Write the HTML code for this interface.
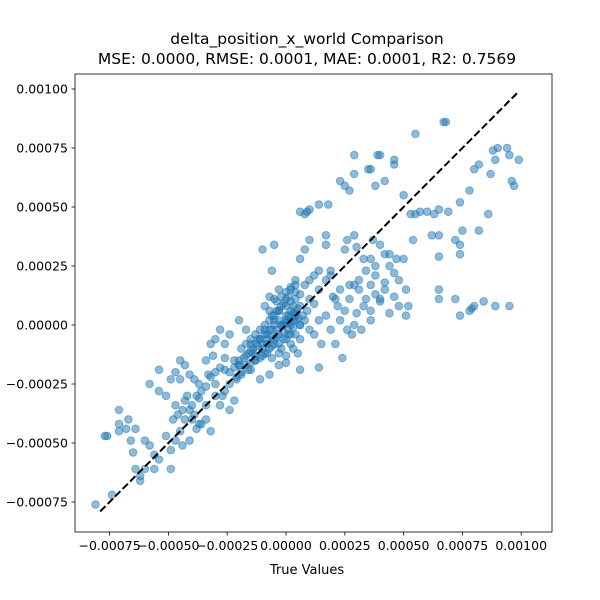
<!DOCTYPE html>
<html><head><meta charset="utf-8"><style>
html,body{margin:0;padding:0;background:#fff}
svg{display:block;font-family:"DejaVu Sans","Liberation Sans",sans-serif}
</style></head><body>
<svg id="chart" width="600" height="600" viewBox="0 0 600 600">
<rect width="600" height="600" fill="#fff"/>
<text x="307" y="44" font-size="15.5" text-anchor="middle">delta_position_x_world Comparison</text>
<text x="307" y="64" font-size="15.5" text-anchor="middle">MSE: 0.0000, RMSE: 0.0001, MAE: 0.0001, R2: 0.7569</text>
<g id="points"></g>
<g id="axes"></g>
<text x="307" y="574" font-size="13" text-anchor="middle">True Values</text>
</svg>
<script>
// values in units of 1e-5
const xTicks = [-75,-50,-25,0,25,50,75,100];
const xTickLabels = ["\u22120.00075","\u22120.00050","\u22120.00025","0.00000","0.00025","0.00050","0.00075","0.00100"];
const yTicks = [-75,-50,-25,0,25,50,75,100];
const yTickLabels = ["\u22120.00075","\u22120.00050","\u22120.00025","0.00000","0.00025","0.00050","0.00075","0.00100"];
const lineRange = [-79, 99];
const trueVals = [-81,-74,-76,-77,-71,-71,-71,-68,-67,-66,-64,-65,-64,-62,-60,-62,-56,-58,-54,-51,-54,-49,-47,-45,-47,-43,-43,-41,-39,-37,-34,-32,-30,-28,-26,-24,-22,-31,-34,-26,-24,-20,-17,-15,-13,-11,-9,-7,-5,-3,-6,-5,-10,4,6,8,10,6,4,2,0,-3,-7,-11,-15,-20,-22,6,14,19,23,21,25,27,29,31,34,36,37,40,42,44,46,48,51,52,51,40,42,38,36,32,29,26,19,17,17,25,26,29,8,10,14,18,23,25,27,29,35,39,38,42,46,50,53,55,57,60,63,65,69,74,65,72,74,75,78,80,82,87,89,88,90,94,95,96,97,99,86,82,74,65,65,72,74,79,84,80,50,54,67,68,55,46,40,36,29,6,9,65,62,78,89,95,
-20,-17,-15,-13,-11,-9,-7,-5,-3,0,2,4,6,8,10,12,14,0,2,4,-3,-2,1,3,4,6,10,14,17,19,-5,-8,-10,-13,-16,-19,-21,-24,-27,-30,-37,-39,-41,-43,-45,-33,-26,-32,-30,-28,6,10,14,17,21,23,27,31,34,36,38,
-54,-49,-47,-45,-41,-37,-34,-51,-56,-58,-60,-49,-44,
-1,1,3,5,-4,-6,7,9,12,0,-2,2,
-4,-2,0,2,-6,-4,-2,0,2,4,-8,-6,-3,-1,1,3,-5,0,2,4,-10,-8,-6,-12,-14,3,5,0,-3,6,8,-7,-9,
-24,-22,-20,-18,-16,-14,-12,-10,-8,-6,-4,-2,0,2,4,-19,-17,-15,-13,-11,-9,-7,-5,-3,-1,1,-21,-19,-17,-15,-13,-11,-9,-7,-5,-3,-1,1,3,5,-26,-28,-30,-32,-34,-36,-38,-40,-42,-44,-46,-48,-36,-38,-40,
30,33,36,40,44,46,48,42,38,44,47,33,30,20,22,12,15,24,28];
const predVals = [-76,-72,-47,-47,-36,-42,-45,-44,-40,-49,-44,-54,-61,-64,-61,-66,-55,-25,-28,-30,-19,-23,-20,-23,-34,-32,-40,-36,-38,-31,-34,-45,-30,-34,-28,-36,-32,-13,-15,-8,-4,2,-2,-8,-13,-6,-2,6,11,15,23,34,32,19,28,32,36,0,-4,-8,-13,-17,-21,-23,-19,-17,-15,-19,-18,-2,2,-8,6,11,17,19,23,28,36,34,30,25,22,19,15,8,4,11,15,13,2,-2,0,-2,23,38,34,32,36,38,47,49,51,51,61,59,57,64,66,72,59,61,68,55,47,47,48,48,47,49,48,52,38,36,34,40,57,66,68,64,70,74,75,75,72,61,59,70,47,40,30,11,15,11,4,7,10,8,28,36,86,86,81,70,72,66,72,48,48,29,38,6,8,8,
-15,-13,-11,-8,-6,-4,-2,0,2,4,6,11,13,17,19,21,23,11,15,17,6,0,-2,2,4,8,11,15,19,21,-6,-8,-13,-15,-19,-21,-23,-25,-30,-25,-25,-23,-21,-17,-15,-21,-19,-8,-6,-2,-6,-2,2,4,11,15,17,15,11,17,21,
-57,-53,-49,-45,-49,-42,-40,-47,-61,-51,-49,-61,-51,
-3,1,5,7,-5,-9,4,6,9,-6,-10,-4,
10,12,14,16,4,6,8,8,10,14,-4,-2,-4,0,4,8,2,2,0,2,-10,-12,-14,-6,-10,-10,-12,-16,-12,0,2,12,8,
-20,-18,-17,-14,-12,-12,-9,-8,-6,-5,-2,0,1,3,5,-10,-8,-6,-4,-2,0,2,4,6,9,12,-22,-20,-17,-16,-15,-14,-12,-10,-8,-8,-6,-4,-1,3,-14,-18,-20,-22,-26,-28,-30,-34,-30,-36,-38,-40,-42,-44,-40,
5,8,6,10,5,12,8,18,25,30,28,28,33,12,8,-4,-8,-14,-4];

const L=75,R=552,T=74,B=532;
const xS = v => 286 + v*58.8/25;
const yS = v => 325 - v*59/25;
const NS="http://www.w3.org/2000/svg";
const pts=document.getElementById('points');
for(let i=0;i<trueVals.length;i++){
  const c=document.createElementNS(NS,'circle');
  c.setAttribute('cx',xS(trueVals[i]).toFixed(1));
  c.setAttribute('cy',yS(predVals[i]).toFixed(1));
  c.setAttribute('r','3.8');
  c.setAttribute('fill','#1f77b4');
  c.setAttribute('fill-opacity','0.5');
  c.setAttribute('stroke','#1f77b4');
  c.setAttribute('stroke-opacity','0.5');
  c.setAttribute('stroke-width','1');
  
  
  pts.appendChild(c);
}
const ax=document.getElementById('axes');
const ln=document.createElementNS(NS,'line');
ln.setAttribute('x1',xS(lineRange[0]));ln.setAttribute('y1',yS(lineRange[0]));
ln.setAttribute('x2',xS(lineRange[1]));ln.setAttribute('y2',yS(lineRange[1]));
ln.setAttribute('stroke','#000');ln.setAttribute('stroke-width','2');ln.setAttribute('stroke-dasharray','7.4,3.2');


ax.appendChild(ln);
const fr=document.createElementNS(NS,'rect');
fr.setAttribute('x',L);fr.setAttribute('y',T);fr.setAttribute('width',R-L);fr.setAttribute('height',B-T);
fr.setAttribute('fill','none');fr.setAttribute('stroke','#000');fr.setAttribute('stroke-width','0.8');


ax.appendChild(fr);
xTicks.forEach((v,i)=>{
  const x=xS(v);
  const t=document.createElementNS(NS,'line');
  t.setAttribute('x1',x);t.setAttribute('x2',x);t.setAttribute('y1',B);t.setAttribute('y2',B+3.5);
  t.setAttribute('stroke','#000');t.setAttribute('stroke-width','0.8');
  
  
  ax.appendChild(t);
  const tx=document.createElementNS(NS,'text');
  tx.setAttribute('x',x);tx.setAttribute('y',B+18);tx.setAttribute('font-size','12.5');tx.setAttribute('text-anchor','middle');
  tx.textContent=xTickLabels[i];
  
  
  ax.appendChild(tx);
});
yTicks.forEach((v,i)=>{
  const y=yS(v);
  const t=document.createElementNS(NS,'line');
  t.setAttribute('x1',L-3.5);t.setAttribute('x2',L);t.setAttribute('y1',y);t.setAttribute('y2',y);
  t.setAttribute('stroke','#000');t.setAttribute('stroke-width','0.8');
  
  
  ax.appendChild(t);
  const tx=document.createElementNS(NS,'text');
  tx.setAttribute('x',L-7);tx.setAttribute('y',y+4.5);tx.setAttribute('font-size','12.5');tx.setAttribute('text-anchor','end');
  tx.textContent=yTickLabels[i];
  
  
  ax.appendChild(tx);
});
</script>
</body></html>
